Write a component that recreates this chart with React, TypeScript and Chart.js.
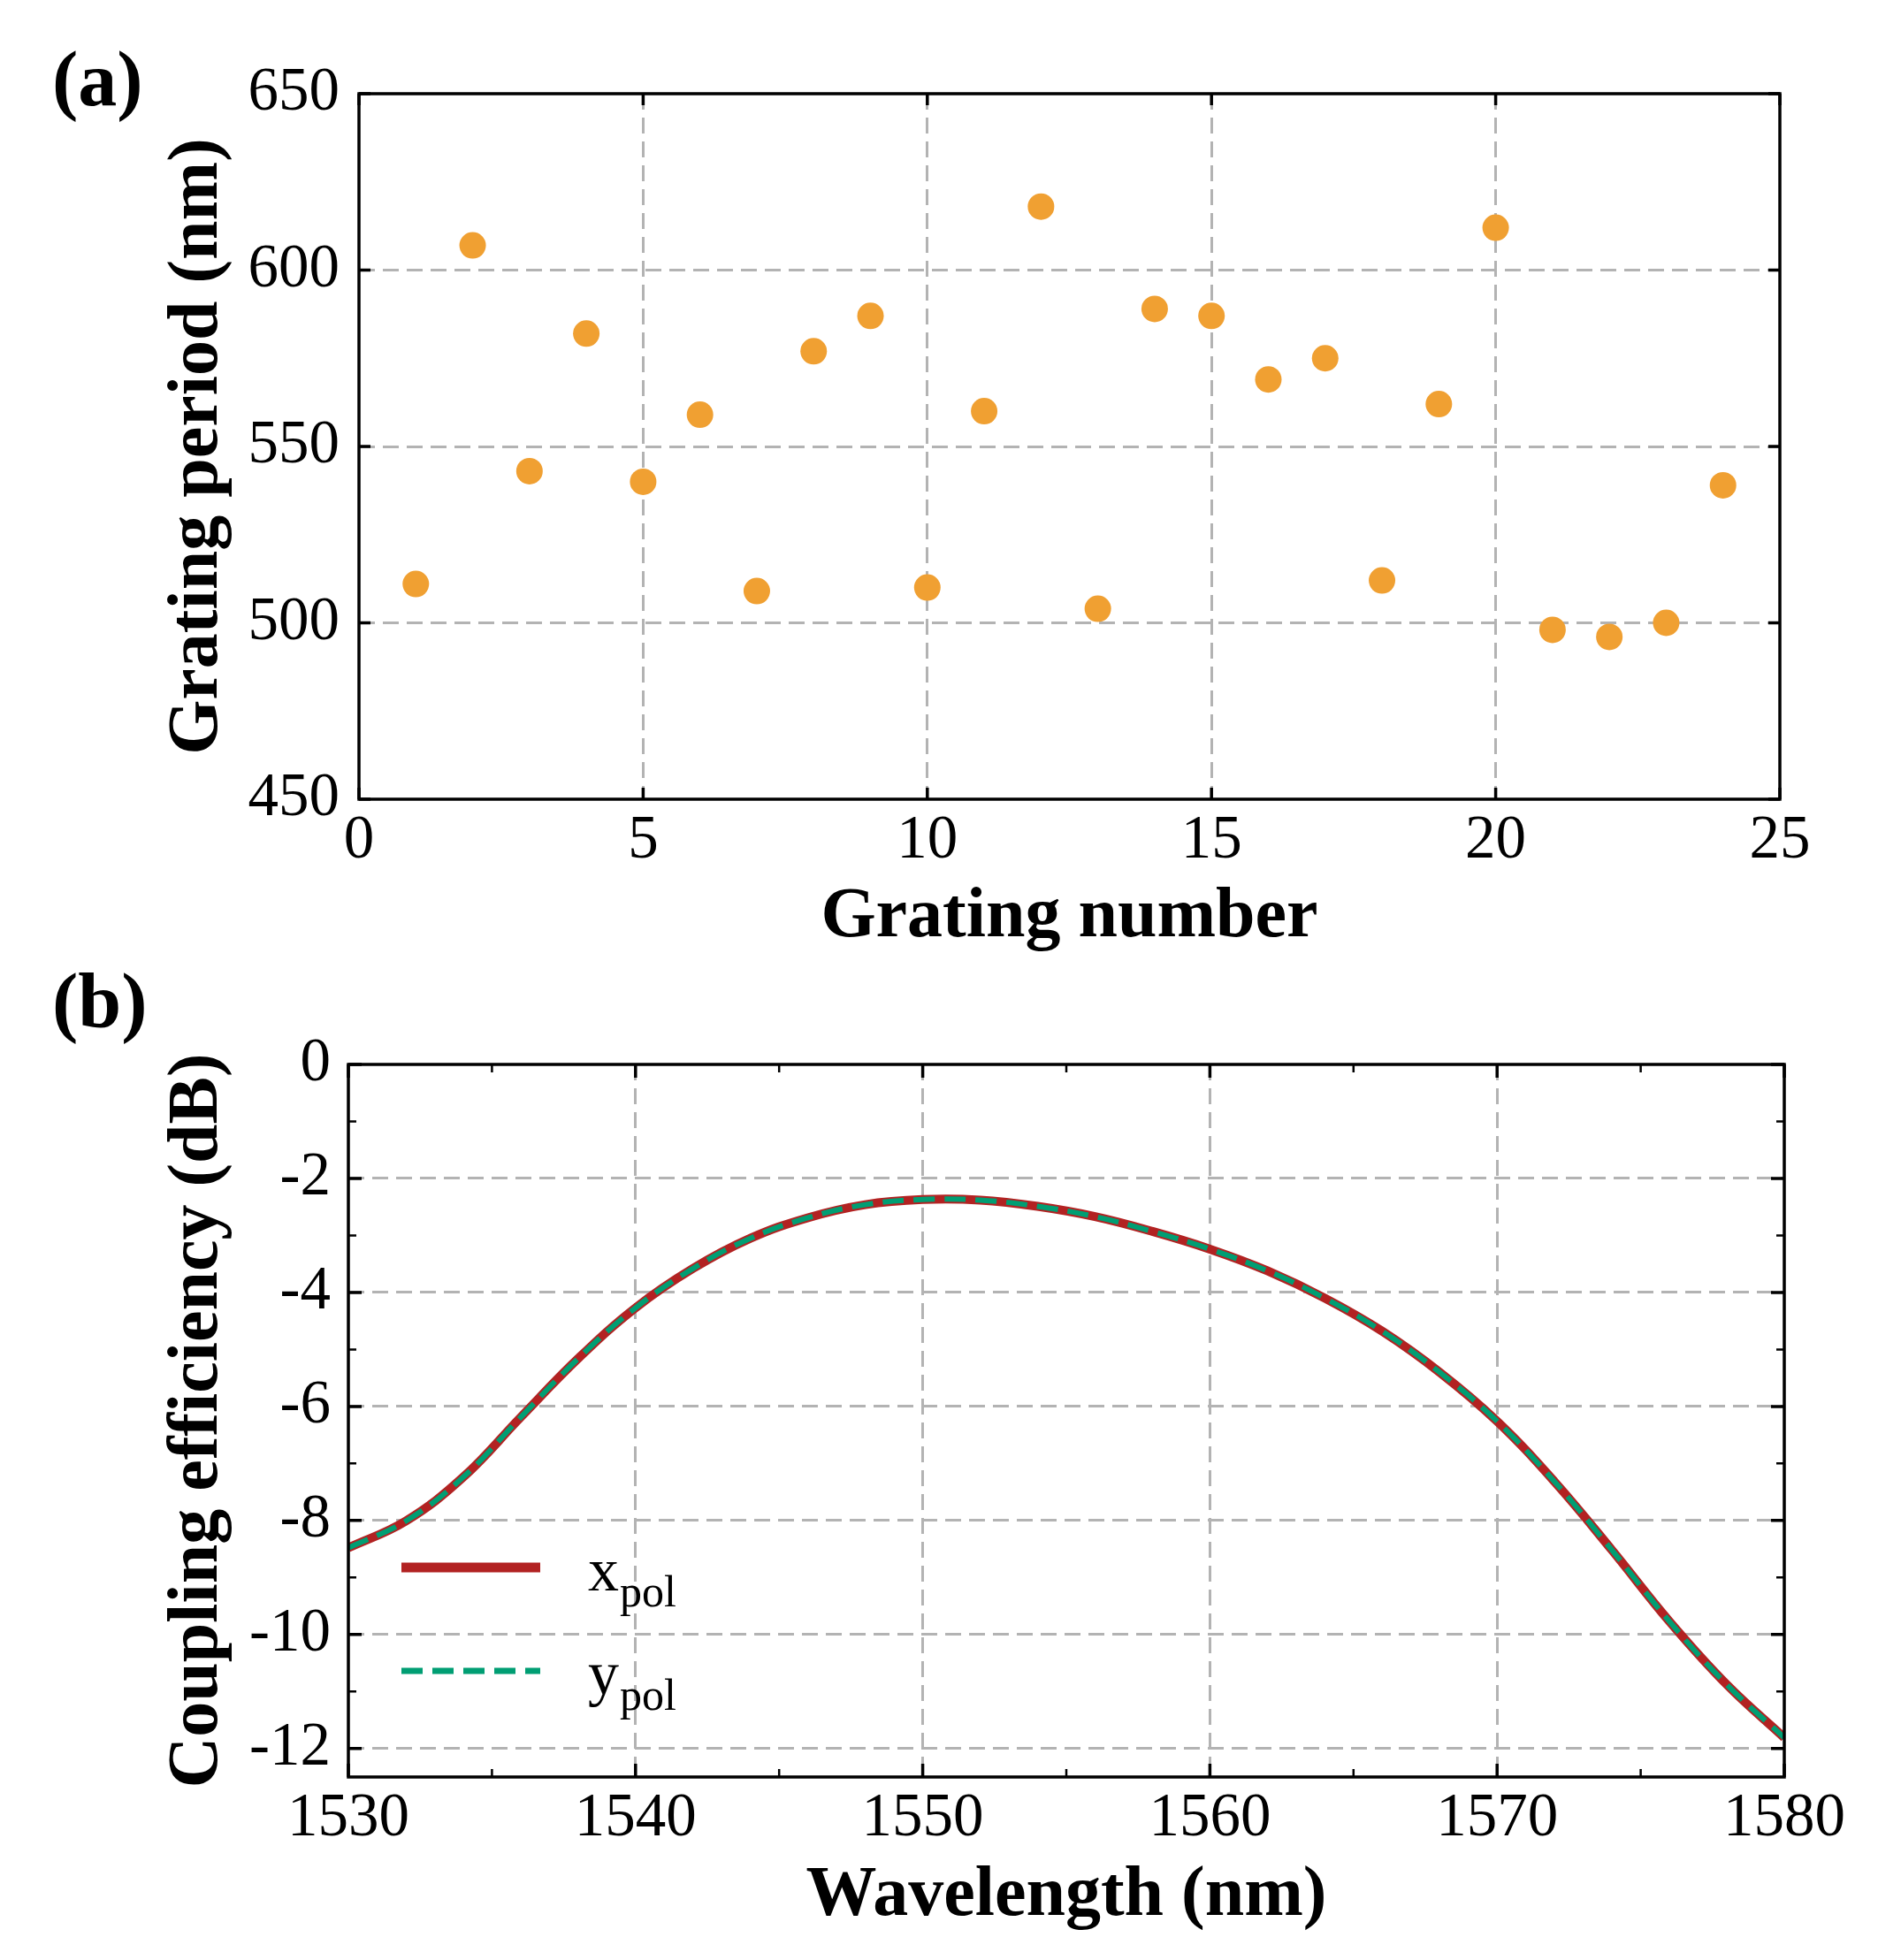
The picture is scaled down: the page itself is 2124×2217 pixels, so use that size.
import React, { useEffect, useRef } from 'react';
import { Chart, registerables } from 'chart.js';

Chart.register(...registerables);

const FONT = '"Liberation Serif", "Times New Roman", Times, serif';

// ---------- Panel (a) data ----------
const GRATING_NUMBER = [1, 2, 3, 4, 5, 6, 7, 8, 9, 10, 11, 12, 13, 14, 15, 16, 17, 18, 19, 20, 21, 22, 23, 24];
const GRATING_PERIOD = [511, 607, 543, 582, 540, 559, 509, 577, 587, 510, 560, 618, 504, 589, 587, 569, 575, 512, 562, 612, 498, 496, 500, 539];
const A_X_TICKS = [0, 5, 10, 15, 20, 25];
const A_Y_TICKS = [450, 500, 550, 600, 650];

// ---------- Panel (b) data ----------
const WAVELENGTH = [1530, 1532, 1534, 1536, 1538, 1540, 1542, 1544, 1546, 1548, 1550, 1552, 1554, 1556, 1558, 1560, 1562, 1564, 1566, 1568, 1570, 1572, 1574, 1576, 1578, 1580];
const XPOL = [-8.48, -8.01, -7.24, -6.19, -5.16, -4.27, -3.58, -3.05, -2.69, -2.46, -2.37, -2.38, -2.49, -2.67, -2.93, -3.24, -3.62, -4.1, -4.68, -5.4, -6.26, -7.32, -8.52, -9.77, -10.88, -11.81];
const YPOL = [-8.48, -8.01, -7.24, -6.19, -5.16, -4.27, -3.58, -3.05, -2.69, -2.46, -2.37, -2.38, -2.49, -2.67, -2.93, -3.24, -3.62, -4.1, -4.68, -5.4, -6.26, -7.32, -8.52, -9.77, -10.88, -11.81];
const B_X_TICKS = [1530, 1540, 1550, 1560, 1570, 1580];
const B_X_MINOR = [1535, 1545, 1555, 1565, 1575];
const B_Y_TICKS = [0, -2, -4, -6, -8, -10, -12];
const B_Y_MINOR = [-1, -3, -5, -7, -9, -11];
const LEGEND_MAIN = ['x', 'y'];
const LEGEND_SUB = ['pol', 'pol'];

const GRID_COLOR = '#b3b3b3';

const framePlugin = {
  id: 'frame',
  afterDraw(chart: any, _args: any, o: any) {
    const { ctx, chartArea: a, scales } = chart;
    const xs = scales.x;
    const ys = scales.y;
    ctx.save();
    ctx.strokeStyle = '#000';
    ctx.lineCap = 'butt';
    const drawTicks = (xv: number[], yv: number[], len: number, w: number) => {
      ctx.lineWidth = w;
      ctx.beginPath();
      for (const v of xv) {
        const px = xs.getPixelForValue(v);
        ctx.moveTo(px, a.bottom);
        ctx.lineTo(px, a.bottom - len);
        ctx.moveTo(px, a.top);
        ctx.lineTo(px, a.top + len);
      }
      for (const v of yv) {
        const py = ys.getPixelForValue(v);
        ctx.moveTo(a.left, py);
        ctx.lineTo(a.left + len, py);
        ctx.moveTo(a.right, py);
        ctx.lineTo(a.right - len, py);
      }
      ctx.stroke();
    };
    drawTicks(o.xMajor, o.yMajor, o.majorLen, 3.5);
    if (o.xMinor) drawTicks(o.xMinor, o.yMinor, o.minorLen, 2.5);
    ctx.lineWidth = 3.5;
    ctx.strokeRect(a.left, a.top, a.right - a.left, a.bottom - a.top);

    // panel label
    ctx.fillStyle = '#000';
    ctx.textBaseline = 'alphabetic';
    ctx.textAlign = 'left';
    ctx.font = `bold 88px ${FONT}`;
    ctx.fillText(o.label, o.labelX, o.labelY);

    // legend
    if (o.legend) {
      const L = o.legend;
      chart.data.datasets.forEach((ds: any, i: number) => {
        const ly = a.top + L.lineY + i * L.rowGap;
        ctx.save();
        ctx.strokeStyle = ds.borderColor;
        ctx.lineWidth = ds.borderWidth + 1;
        ctx.setLineDash(ds.borderDash || []);
        ctx.beginPath();
        ctx.moveTo(a.left + L.x0, ly);
        ctx.lineTo(a.left + L.x1, ly);
        ctx.stroke();
        ctx.restore();
        const by = a.top + L.textY + i * L.rowGap;
        ctx.font = `70px ${FONT}`;
        ctx.fillText(LEGEND_MAIN[i], a.left + L.textX, by);
        const w = ctx.measureText(LEGEND_MAIN[i]).width;
        ctx.font = `50px ${FONT}`;
        ctx.fillText(LEGEND_SUB[i], a.left + L.textX + w + 1, by + 18);
      });
    }
    ctx.restore();
  },
};

const gridColorFor = (min: number, max: number) => (c: any) => {
  const v = c.tick ? c.tick.value : NaN;
  return v === min || v === max ? 'rgba(0,0,0,0)' : GRID_COLOR;
};

const axisBase = (ticks: number[], min: number, max: number, titleText: string, titlePad: any, fitSize: number, isX: boolean, tickPad: number) => ({
  type: 'linear',
  min,
  max,
  afterBuildTicks: (s: any) => {
    s.ticks = ticks.map((v) => ({ value: v }));
  },
  afterFit: (s: any) => {
    if (isX) s.height = fitSize;
    else s.width = fitSize;
  },
  grid: {
    drawTicks: false,
    color: gridColorFor(min, max),
    lineWidth: 3,
  },
  border: { display: false, dash: [18, 9] },
  ticks: {
    autoSkip: false,
    maxRotation: 0,
    padding: tickPad,
    color: '#000',
    font: { family: FONT, size: 69 },
    callback: (v: any) => String(v),
  },
  title: {
    display: true,
    text: titleText,
    color: '#000',
    font: { family: FONT, size: 80, weight: 'bold' },
    padding: titlePad,
  },
});

const configA = () => ({
  type: 'scatter',
  data: {
    datasets: [
      {
        data: GRATING_NUMBER.map((n, i) => ({ x: n, y: GRATING_PERIOD[i] })),
        backgroundColor: '#F0A032',
        borderWidth: 0,
        pointRadius: 15,
        pointHoverRadius: 15,
      },
    ],
  },
  options: {
    responsive: false,
    animation: false,
    devicePixelRatio: 1,
    events: [],
    layout: { padding: { left: 0, right: 111, top: 106, bottom: 0 } },
    plugins: {
      legend: { display: false },
      tooltip: { enabled: false },
      frame: {
        xMajor: A_X_TICKS,
        yMajor: A_Y_TICKS,
        majorLen: 13,
        label: '(a)',
        labelX: 59,
        labelY: 119,
      },
    },
    scales: {
      x: axisBase(A_X_TICKS, 0, 25, 'Grating number', { top: 0, bottom: 14 }, 196, true, 6),
      y: axisBase(A_Y_TICKS, 450, 650, 'Grating period (nm)', { top: 176, bottom: 0 }, 406, false, 22),
    },
  },
  plugins: [framePlugin],
});

const configB = () => ({
  type: 'line',
  data: {
    labels: WAVELENGTH,
    datasets: [
      {
        data: WAVELENGTH.map((w, i) => ({ x: w, y: XPOL[i] })),
        borderColor: '#B22222',
        borderWidth: 10,
        pointRadius: 0,
        tension: 0.4,
        fill: false,
        order: 2,
      },
      {
        data: WAVELENGTH.map((w, i) => ({ x: w, y: YPOL[i] })),
        borderColor: '#009E73',
        borderWidth: 6,
        borderDash: [24, 11],
        pointRadius: 0,
        tension: 0.4,
        fill: false,
        order: 1,
      },
    ],
  },
  options: {
    responsive: false,
    animation: false,
    devicePixelRatio: 1,
    events: [],
    layout: { padding: { left: 0, right: 106, top: 104, bottom: 0 } },
    plugins: {
      legend: { display: false },
      tooltip: { enabled: false },
      frame: {
        xMajor: B_X_TICKS,
        yMajor: B_Y_TICKS,
        xMinor: B_X_MINOR,
        yMinor: B_Y_MINOR,
        majorLen: 15,
        minorLen: 9,
        label: '(b)',
        labelX: 59,
        labelY: 62,
        legend: { x0: 60, x1: 217, lineY: 569, textX: 271, textY: 595, rowGap: 117 },
      },
    },
    scales: {
      x: axisBase(B_X_TICKS, 1530, 1580, 'Wavelength (nm)', { top: 0, bottom: 24 }, 207, true, 6),
      y: axisBase(B_Y_TICKS, -12.5, 0, 'Coupling efficiency (dB)', { top: 176, bottom: 0 }, 394, false, 20),
    },
  },
  plugins: [framePlugin],
});

function ChartCanvas({ makeConfig, top, height }: { makeConfig: () => any; top: number; height: number }) {
  const ref = useRef<HTMLCanvasElement | null>(null);
  useEffect(() => {
    if (!ref.current) return;
    const chart = new Chart(ref.current, makeConfig());
    return () => chart.destroy();
  }, []);
  return (
    <canvas
      ref={ref}
      width={2124}
      height={height}
      style={{ position: 'absolute', left: 0, top, width: 2124, height, display: 'block' }}
    />
  );
}

export default function App() {
  return (
    <div style={{ position: 'absolute', left: 0, top: 0, width: 2124, height: 2217, background: '#fff', overflow: 'hidden' }}>
      <ChartCanvas makeConfig={configA} top={0} height={1100} />
      <ChartCanvas makeConfig={configB} top={1100} height={1117} />
    </div>
  );
}
